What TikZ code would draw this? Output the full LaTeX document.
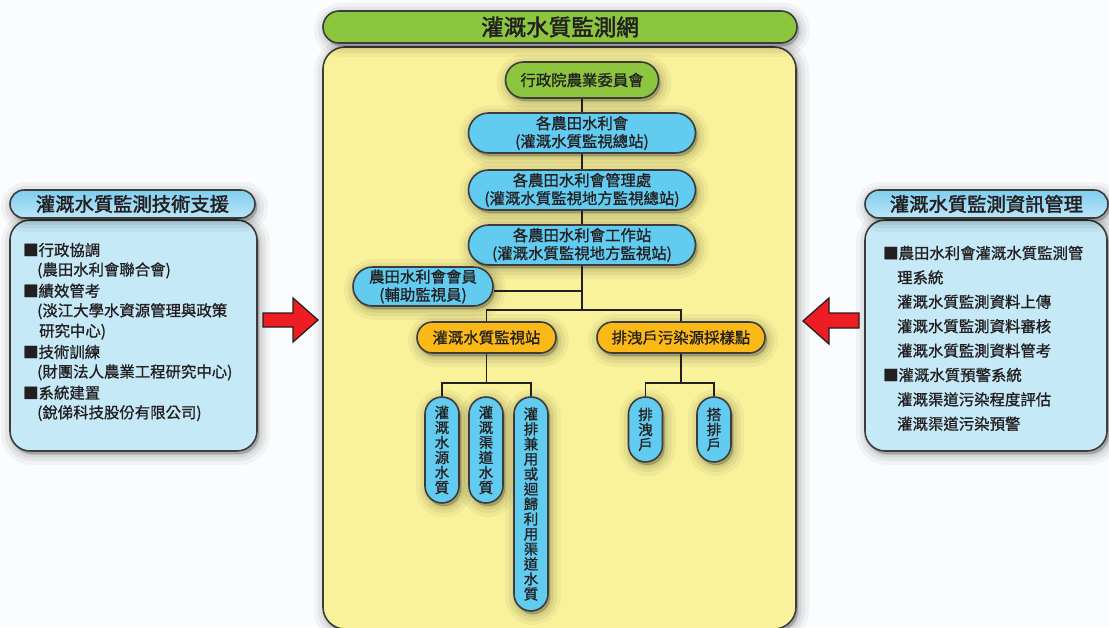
\documentclass[tikz,border=0pt]{standalone}
\usepackage{fontspec}
\newfontfamily\cjk{Noto Sans CJK TC}[FakeBold=1.0]
\newfontfamily\cjkb{Noto Sans CJK TC}[FakeBold=2.0]
\definecolor{bgc}{HTML}{FBFCFD}
\definecolor{yel}{HTML}{FAF29B}
\definecolor{grn}{HTML}{8CC63F}
\definecolor{blu}{HTML}{62CBF0}
\definecolor{org}{HTML}{FBB917}
\definecolor{pbody}{HTML}{C6E9F8}
\definecolor{ptop}{HTML}{7FCDEF}
\definecolor{pbot}{HTML}{BCE6F8}
\definecolor{edgec}{HTML}{3C3C3C}
\definecolor{redc}{HTML}{EE1D23}
\definecolor{linec}{HTML}{231F20}
\tikzset{
  shl/.style 2 args={preaction={draw=black, line width=#1, draw opacity=#2,
     fill=black, fill opacity=#2, transform canvas={shift={(2pt,-3pt)}}}},
  softshadow/.style={shl={22pt}{0.04}, shl={14pt}{0.05}, shl={7pt}{0.06}, shl={2pt}{0.07}},
  box/.style={draw=edgec, line width=1.6pt, inner sep=0pt, align=center,
     text=linec, font=\cjk\fontsize{15.4}{18}\selectfont, softshadow},
  vbox/.style={box, fill=blu, minimum width=34pt, rounded corners=17pt,
     font=\cjk\fontsize{14.5}{15}\selectfont},
  ptext/.style={anchor=west, inner sep=0pt, text=linec, font=\cjk\fontsize{15.4}{18}\selectfont},
  conn/.style={draw=linec, line width=1.4pt},
  bigarrow/.style={fill=redc, draw=linec, line width=1.3pt, line join=miter},
}
\begin{document}
\begin{tikzpicture}[x=1pt, y=-1pt]
\useasboundingbox (0,0) rectangle (1109,627);
\fill[bgc] (0,0) rectangle (1109,627);

% side panels
\node[box, fill=pbody, minimum width=247pt, minimum height=231pt, rounded corners=20pt] (lbody) at (133.5,335.5) {};
\node[box, top color=ptop, bottom color=pbot, minimum width=245pt, minimum height=28pt, rounded corners=14pt,
      font=\cjkb\fontsize{19.3}{20}\selectfont] (ltitle) at (132.5,204) {灌溉水質監測技術支援};
\node[box, fill=pbody, minimum width=242pt, minimum height=231pt, rounded corners=20pt] (rbody) at (986,335.5) {};
\node[box, top color=ptop, bottom color=pbot, minimum width=243pt, minimum height=28pt, rounded corners=14pt,
      font=\cjkb\fontsize{19.3}{20}\selectfont] (rtitle) at (986.5,204) {灌溉水質監測資訊管理};

% left panel text
\node[ptext] (l1) at (23,250) {■行政協調};
\node[ptext] (l2) at (37,270.4) {(農田水利會聯合會)};
\node[ptext] (l3) at (23,290.8) {■績效管考};
\node[ptext] (l4) at (37,311.2) {(淡江大學水資源管理與政策};
\node[ptext] (l5) at (39,331.6) {研究中心)};
\node[ptext] (l6) at (23,352) {■技術訓練};
\node[ptext] (l7) at (37,372.4) {(財團法人農業工程研究中心)};
\node[ptext] (l8) at (23,392.8) {■系統建置};
\node[ptext] (l9) at (37,413.2) {(銳俤科技股份有限公司)};

% right panel text
\node[ptext] (r1) at (883,253) {■農田水利會灌溉水質監測管};
\node[ptext] (r2) at (897,277.4) {理系統};
\node[ptext] (r3) at (897,301.8) {灌溉水質監測資料上傳};
\node[ptext] (r4) at (897,326.2) {灌溉水質監測資料審核};
\node[ptext] (r5) at (897,350.6) {灌溉水質監測資料管考};
\node[ptext] (r6) at (883,375) {■灌溉水質預警系統};
\node[ptext] (r7) at (897,399.4) {灌溉渠道污染程度評估};
\node[ptext] (r8) at (897,423.8) {灌溉渠道污染預警};

% main network box
\node[box, fill=yel, minimum width=473pt, minimum height=582pt, rounded corners=22pt] (net) at (559.5,338) {};
\node[box, fill=grn, minimum width=474pt, minimum height=32pt, rounded corners=16pt,
      font=\cjkb\fontsize{22.5}{24}\selectfont] (title) at (560,27) {灌溉水質監測網};

% hierarchy
\node[box, fill=grn, minimum width=153pt, minimum height=36pt, rounded corners=18pt] (agri) at (582,80) {行政院農業委員會};
\node[box, fill=blu, minimum width=227pt, minimum height=40pt, rounded corners=20pt] (irrig) at (582,133) {各農田水利會\\(灌溉水質監視總站)};
\node[box, fill=blu, minimum width=227pt, minimum height=40pt, rounded corners=20pt] (mgmt) at (582,190) {各農田水利會管理處\\(灌溉水質監視地方監視總站)};
\node[box, fill=blu, minimum width=227pt, minimum height=40pt, rounded corners=20pt] (station) at (582,245) {各農田水利會工作站\\(灌溉水質監視地方監視站)};
\node[box, fill=blu, minimum width=140pt, minimum height=39pt, rounded corners=19.5pt] (member) at (423,286.5) {農田水利會會員\\(輔助監視員)};
\node[box, fill=org, minimum width=139pt, minimum height=31pt, rounded corners=15.5pt] (oa) at (486.5,337.5) {灌溉水質監視站};
\node[box, fill=org, minimum width=168pt, minimum height=31pt, rounded corners=15.5pt] (ob) at (681,337.5) {排洩戶污染源採樣點};

\node[vbox, minimum height=106pt] (v1) at (442,450) {灌\\溉\\水\\源\\水\\質};
\node[vbox, minimum height=106pt] (v2) at (486,450) {灌\\溉\\渠\\道\\水\\質};
\node[vbox, minimum height=214pt] (v3) at (531,504) {灌\\排\\兼\\用\\或\\迴\\歸\\利\\用\\渠\\道\\水\\質};
\node[vbox, minimum height=65pt] (v4) at (645.5,429.5) {排\\洩\\戶};
\node[vbox, minimum height=65pt] (v5) at (714,429.5) {搭\\排\\戶};

% connectors
\coordinate (j1) at (582,310);
\coordinate (mj) at ([yshift=-4.5pt]member.east);
\coordinate (ja) at (486.5,383);
\coordinate (jb) at (681,383);
\draw[conn] (agri.south) -- (irrig.north);
\draw[conn] (irrig.south) -- (mgmt.north);
\draw[conn] (mgmt.south) -- (station.north);
\draw[conn] (station.south) -- (j1);
\draw[conn] (mj) -- (mj -| j1);
\draw[conn] (oa.north) -- (oa.north |- j1) -- (ob.north |- j1) -- (ob.north);
\draw[conn] (oa.south) -- (ja);
\draw[conn] (v1.north) -- (v1.north |- ja) -- (v3.north |- ja) -- (v3.north);
\draw[conn] (ob.south) -- (jb);
\draw[conn] (v4.north) -- (v4.north |- jb) -- (v5.north |- jb) -- (v5.north);

% red arrows
\draw[bigarrow] (263,313) -- (293,313) -- (293,298) -- (318,320) -- (293,342) -- (293,327) -- (263,327) -- cycle;
\draw[bigarrow] (859,313) -- (829,313) -- (829,298) -- (803,321) -- (829,344) -- (829,328) -- (859,328) -- cycle;
\end{tikzpicture}
\end{document}
